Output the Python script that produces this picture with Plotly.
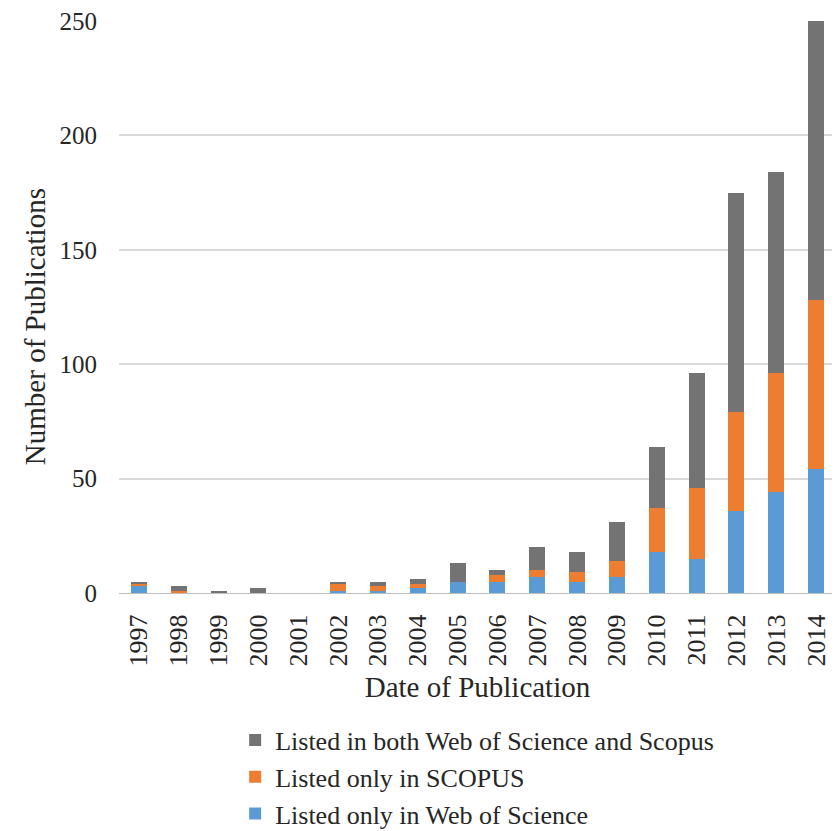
import plotly.graph_objects as go

years = ["1997", "1998", "1999", "2000", "2001", "2002", "2003", "2004", "2005",
         "2006", "2007", "2008", "2009", "2010", "2011", "2012", "2013", "2014"]
wos_only = [3, 0, 0, 0, 0, 1, 1, 2, 5, 5, 7, 5, 7, 18, 15, 36, 44, 54]
scopus_only = [1, 1, 0, 0, 0, 3, 2, 2, 0, 3, 3, 4, 7, 19, 31, 43, 52, 74]
both = [1, 2, 1, 2, 0, 1, 2, 2, 8, 2, 10, 9, 17, 27, 50, 96, 88, 122]

series_names = ["Listed only in Web of Science", "Listed only in SCOPUS",
                "Listed in both Web of Science and Scopus"]
colors = ["#5b9bd5", "#ed7d31", "#737373"]

font_family = "Liberation Serif, Times New Roman, serif"

fig = go.Figure()
for name, vals, col in zip(series_names, [wos_only, scopus_only, both], colors):
    fig.add_trace(go.Bar(x=years, y=vals, name=name, marker_color=col,
                         marker_line_width=0))

fig.update_layout(
    barmode="stack",
    bargap=0.6,
    width=840, height=831,
    margin=dict(l=111, r=12, t=13, b=246, autoexpand=False),
    plot_bgcolor="white", paper_bgcolor="white",
    font=dict(family=font_family, color="#262626", size=24),
    legend=dict(orientation="v", traceorder="reversed", x=0.162, xanchor="left",
                y=-0.216, yanchor="top", font=dict(size=26, color="#262626"),
                itemwidth=30, tracegroupgap=0),
    xaxis=dict(tickangle=-90, tickfont=dict(size=26), showgrid=False,
               showline=True, linecolor="#bfbfbf", linewidth=1,
               ticklabelstandoff=10, automargin=False,
               title=dict(text="Date of Publication", font=dict(size=29), standoff=11)),
    yaxis=dict(range=[0, 250], dtick=50, showgrid=True, gridcolor="#d9d9d9",
               gridwidth=1.5, zeroline=False, tickfont=dict(size=25),
               ticklabelstandoff=21, ticklabeloverflow="allow", automargin=False),
    annotations=[dict(text="Number of Publications", textangle=-90,
                      xref="paper", yref="paper", x=-0.117, y=0.465,
                      xanchor="center", yanchor="middle", showarrow=False,
                      font=dict(size=29, color="#262626", family=font_family))],
)

fig.write_html("out.html")
